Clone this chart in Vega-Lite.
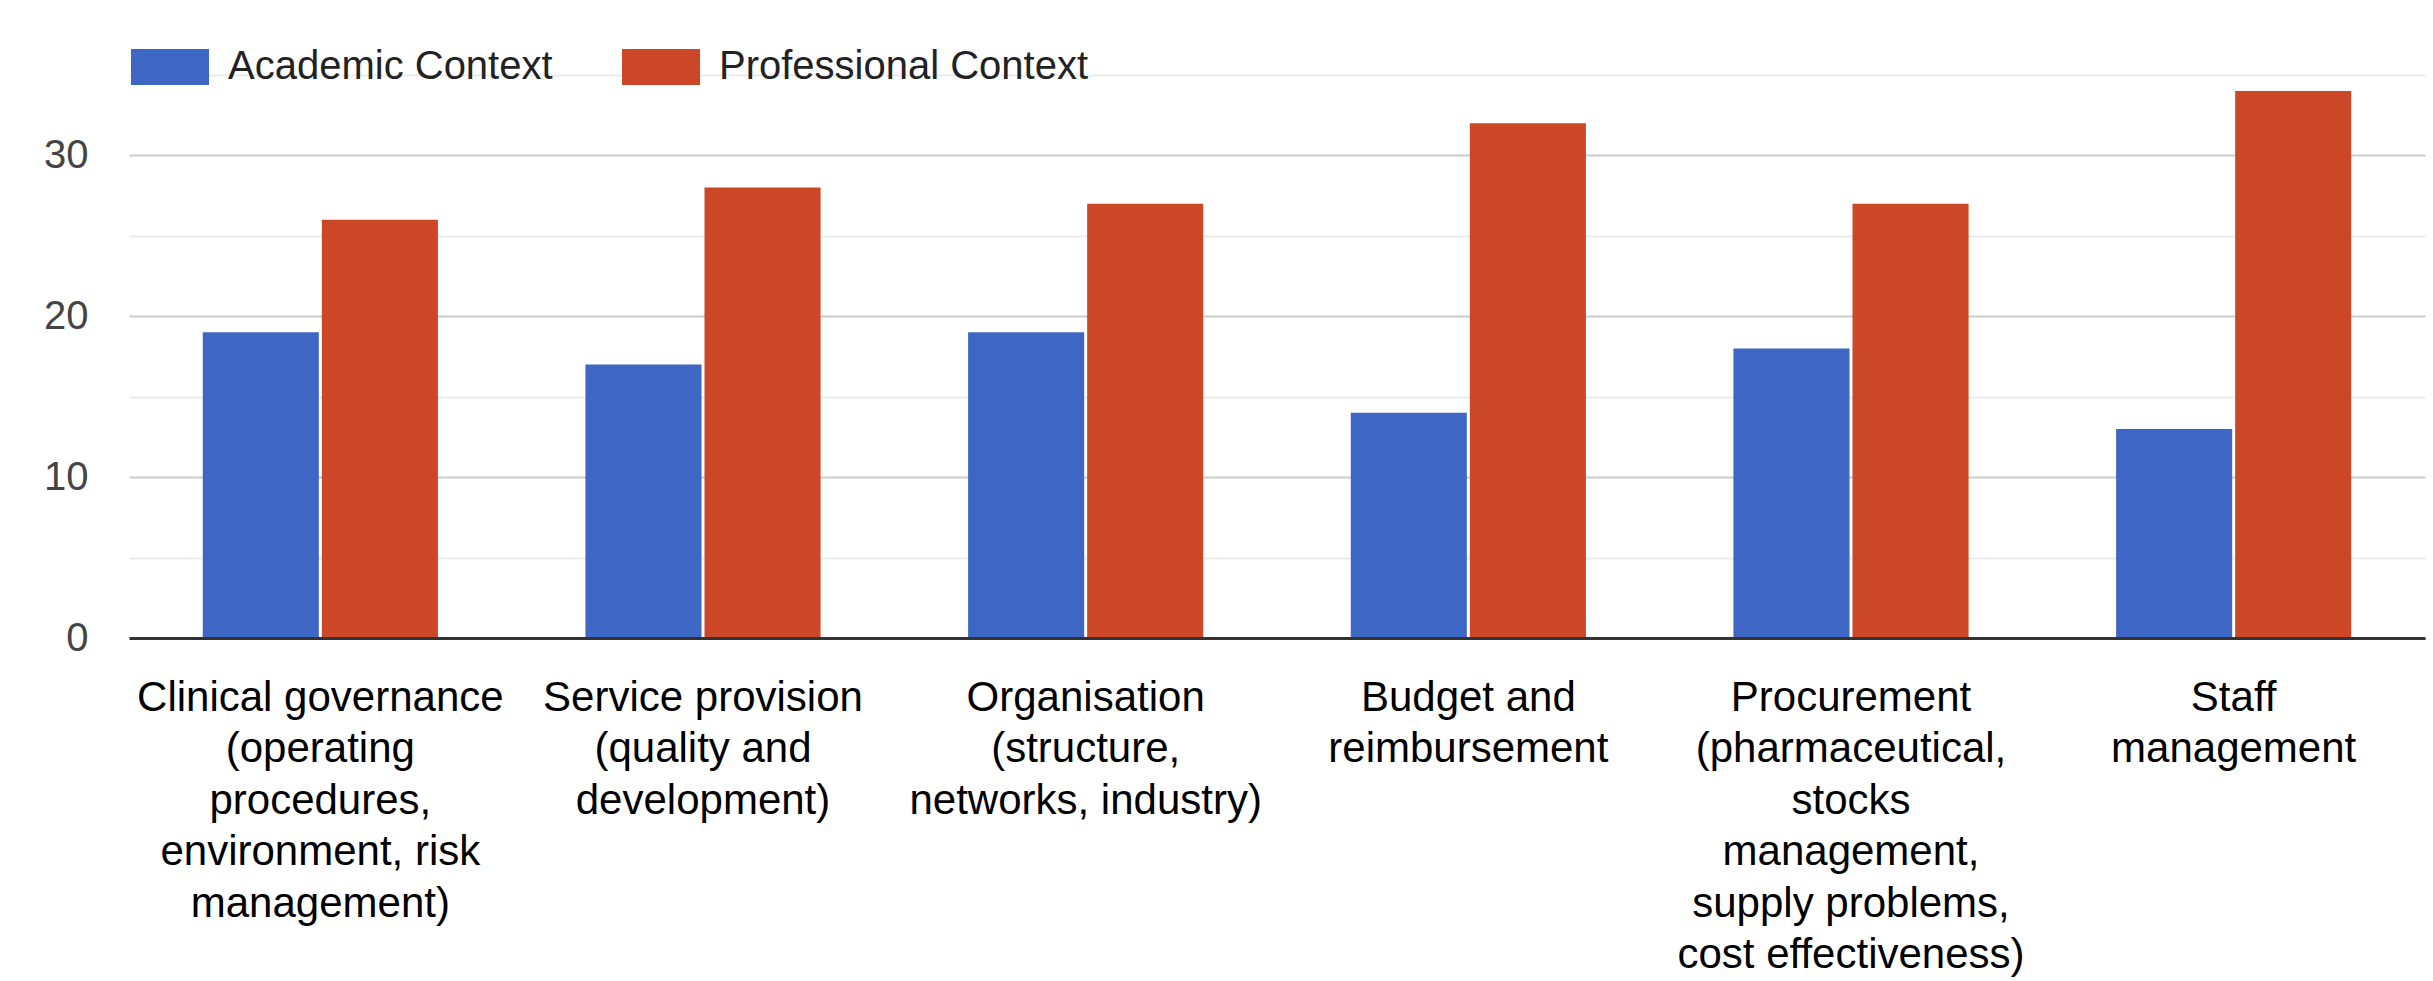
{
  "$schema": "https://vega.github.io/schema/vega-lite/v6.json",
  "width": 2296,
  "height": 563,
  "autosize": {"type": "none"},
  "padding": {"left": 129, "top": 75, "right": 8, "bottom": 343},
  "background": "white",
  "config": {"view": {"stroke": null}, "font": "Liberation Sans"},
  "data": {
    "values": [
      {"category": "Clinical governance (operating procedures, environment, risk management)", "context": "Academic Context", "count": 19},
      {"category": "Clinical governance (operating procedures, environment, risk management)", "context": "Professional Context", "count": 26},
      {"category": "Service provision (quality and development)", "context": "Academic Context", "count": 17},
      {"category": "Service provision (quality and development)", "context": "Professional Context", "count": 28},
      {"category": "Organisation (structure, networks, industry)", "context": "Academic Context", "count": 19},
      {"category": "Organisation (structure, networks, industry)", "context": "Professional Context", "count": 27},
      {"category": "Budget and reimbursement", "context": "Academic Context", "count": 14},
      {"category": "Budget and reimbursement", "context": "Professional Context", "count": 32},
      {"category": "Procurement (pharmaceutical, stocks management, supply problems, cost effectiveness)", "context": "Academic Context", "count": 18},
      {"category": "Procurement (pharmaceutical, stocks management, supply problems, cost effectiveness)", "context": "Professional Context", "count": 27},
      {"category": "Staff management", "context": "Academic Context", "count": 13},
      {"category": "Staff management", "context": "Professional Context", "count": 34}
    ]
  },
  "mark": {"type": "bar"},
  "encoding": {
    "x": {
      "field": "category",
      "type": "nominal",
      "sort": null,
      "scale": {"paddingInner": 0.3855, "paddingOuter": 0.19275},
      "axis": {
        "title": null,
        "labelAngle": 0,
        "labelFontSize": 42,
        "labelColor": "#000000",
        "labelLineHeight": 51.5,
        "labelLimit": 1000,
        "labelOverlap": false,
        "ticks": false,
        "labelPadding": 39,
        "labelAlign": "center",
        "labelBaseline": "top",
        "domainColor": "#333333",
        "domainWidth": 3,
        "zindex": 1,
        "labelExpr": "datum.value == 'Clinical governance (operating procedures, environment, risk management)' ? ['Clinical governance', '(operating', 'procedures,', 'environment, risk', 'management)'] : datum.value == 'Service provision (quality and development)' ? ['Service provision', '(quality and', 'development)'] : datum.value == 'Organisation (structure, networks, industry)' ? ['Organisation', '(structure,', 'networks, industry)'] : datum.value == 'Budget and reimbursement' ? ['Budget and', 'reimbursement'] : datum.value == 'Staff management' ? ['Staff', 'management'] : ['Procurement', '(pharmaceutical,', 'stocks', 'management,', 'supply problems,', 'cost effectiveness)']"
      }
    },
    "xOffset": {
      "field": "context",
      "type": "nominal",
      "sort": ["Academic Context", "Professional Context"],
      "scale": {"paddingInner": 0.025}
    },
    "y": {
      "field": "count",
      "type": "quantitative",
      "scale": {"domain": [0, 35], "nice": false},
      "axis": {
        "title": null,
        "values": [0, 5, 10, 15, 20, 25, 30, 35],
        "labelExpr": "datum.value % 10 == 0 ? datum.label : ''",
        "labelFontSize": 40,
        "labelColor": "#444444",
        "labelPadding": 41,
        "ticks": false,
        "domain": false,
        "gridWidth": 2,
        "gridColor": {"condition": {"test": "datum.value % 10 == 0", "value": "#cccccc"}, "value": "#ebebeb"}
      }
    },
    "color": {
      "field": "context",
      "type": "nominal",
      "scale": {"domain": ["Academic Context", "Professional Context"], "range": ["#3e67c5", "#cb4728"]},
      "legend": {
        "orient": "none",
        "legendX": 2,
        "legendY": -47,
        "direction": "horizontal",
        "title": null,
        "labelFontSize": 40,
        "labelColor": "#222222",
        "labelLimit": 1000,
        "symbolType": "M-1,-0.4615H1V0.4615H-1Z",
        "symbolSize": 6084,
        "symbolStrokeWidth": 0,
        "symbolOpacity": 1,
        "labelOffset": 19,
        "columnPadding": 69,
        "padding": 0
      }
    }
  }
}
